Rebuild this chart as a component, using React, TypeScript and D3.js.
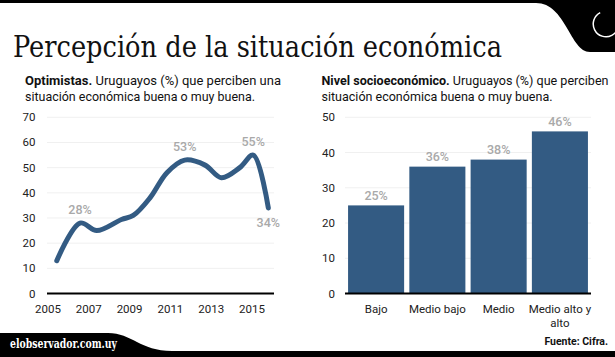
import React from "react";
import * as d3 from "d3";

const lineYears = [2005.43, 2006.57, 2007.39, 2008.6, 2009.18, 2010.0, 2010.83, 2011.7, 2012.7, 2013.5, 2014.4, 2015.06, 2015.8];
const lineValues = [13, 28, 25, 29.4, 31, 38, 48, 53, 51, 46, 50, 55, 34];
const lineLabels = [
  { i: 1, text: "28%", pos: "above" },
  { i: 7, text: "53%", pos: "above" },
  { i: 11, text: "55%", pos: "above" },
  { i: 12, text: "34%", pos: "below" },
];
const yearTicks = [2005, 2007, 2009, 2011, 2013, 2015];
const leftYTicks = [0, 10, 20, 30, 40, 50, 60, 70];

const categories = ["Bajo", "Medio bajo", "Medio", "Medio alto y alto"];
const catLines = [["Bajo"], ["Medio bajo"], ["Medio"], ["Medio alto y", "alto"]];
const barValues = [25, 36, 38, 46];
const rightYTicks = [0, 10, 20, 30, 40, 50];

const BLUE = "#335b83";
const GRAY = "#a9a9a9";
const FONT = "Roboto, 'Noto Sans', sans-serif";

export default function App() {
  const yTop = 117.3;
  const yBase = 293.5;
  const xL = d3.scaleLinear().domain([2005, 2015]).range([48, 252]);
  const yL = d3.scaleLinear().domain([0, 70]).range([yBase, yTop]);
  const line = d3
    .line<number>()
    .x((_, i) => xL(lineYears[i]))
    .y((d) => yL(d))
    .curve(d3.curveCatmullRom.alpha(0.5));

  const xR = d3.scaleBand<string>().domain(categories).range([345, 591]).paddingInner(0.085).paddingOuter(0.05);
  const yR = d3.scaleLinear().domain([0, 50]).range([yBase, yTop]);

  return (
    <svg
      width={615}
      height={357}
      style={{ position: "absolute", left: 0, top: 0, background: "#fff" }}
      fontFamily={FONT}
    >
      <rect width={615} height={357} fill="#fff" />
      {/* header band */}
      <path d="M0,0 H615 V52 H590 C570,52 566,3 536,3 H0 Z" fill="#000" />
      <path
        d={d3.arc()({ innerRadius: 12, outerRadius: 13.5, startAngle: 0.35 * Math.PI, endAngle: 1.85 * Math.PI }) || ""}
        transform="translate(606,24)"
        fill="#fff"
      />
      {/* footer band */}
      <path d="M0,333 H108 C132,333 140,351 172,351 H615 V357 H0 Z" fill="#000" />
      <text x={10} y={348} fill="#fff" fontFamily="'DejaVu Serif', serif" fontWeight="bold" fontSize={12} textLength={107} lengthAdjust="spacingAndGlyphs">
        elobservador.com.uy
      </text>
      <text x={608} y={345} textAnchor="end" fontSize={10.5} fontWeight="bold" fill="#111">
        Fuente: Cifra.
      </text>

      {/* title */}
      <text x={13} y={57} fontFamily="'DejaVu Serif', serif" fontSize={29} fill="#111" textLength={489} lengthAdjust="spacingAndGlyphs">
        Percepción de la situación económica
      </text>

      {/* subtitles */}
      <text x={25} y={85} fontSize={13} fill="#111" textLength={256} lengthAdjust="spacingAndGlyphs">
        <tspan fontWeight="bold">Optimistas.</tspan> Uruguayos (%) que perciben una
      </text>
      <text x={25} y={101} fontSize={13} fill="#111" textLength={230} lengthAdjust="spacingAndGlyphs">
        situación económica buena o muy buena.
      </text>
      <text x={321.5} y={85} fontSize={13} fill="#111" textLength={287} lengthAdjust="spacingAndGlyphs">
        <tspan fontWeight="bold">Nivel socioeconómico.</tspan> Uruguayos (%) que perciben
      </text>
      <text x={321.5} y={101} fontSize={13} fill="#111" textLength={231} lengthAdjust="spacingAndGlyphs">
        situación económica buena o muy buena.
      </text>

      {/* left chart */}
      {leftYTicks.map((t) => (
        <g key={"ly" + t}>
          {t > 0 && <line x1={47} x2={274} y1={yL(t)} y2={yL(t)} stroke="#f0f0f0" strokeWidth={1} />}
          <text x={35.5} y={yL(t) + 4} textAnchor="end" fontSize={11.5} fill="#222">
            {t}
          </text>
        </g>
      ))}
      {yearTicks.map((t) => (
        <text key={"lx" + t} x={xL(t)} y={313} textAnchor="middle" fontSize={11.5} fill="#222">
          {t}
        </text>
      ))}
      <line x1={47} x2={274} y1={yBase} y2={yBase} stroke="#000" strokeWidth={2} />
      <path d={line(lineValues) || ""} fill="none" stroke={BLUE} strokeWidth={5} strokeLinecap="round" strokeLinejoin="round" />
      {lineLabels.map((l) => (
        <text
          key={l.text}
          x={xL(lineYears[l.i])}
          y={l.pos === "above" ? yL(lineValues[l.i]) - 9.5 : yL(lineValues[l.i]) + 19}
          textAnchor="middle"
          fontSize={12.5}
          fontWeight={500}
          fill={GRAY}
        >
          {l.text}
        </text>
      ))}

      {/* right chart */}
      {rightYTicks.map((t) => (
        <g key={"ry" + t}>
          {t > 0 && <line x1={345} x2={591} y1={yR(t)} y2={yR(t)} stroke="#f0f0f0" strokeWidth={1} />}
          <text x={335} y={yR(t) + 4} textAnchor="end" fontSize={11.5} fill="#222">
            {t}
          </text>
        </g>
      ))}
      {categories.map((c, i) => (
        <g key={c}>
          <rect x={xR(c)} y={yR(barValues[i])} width={xR.bandwidth()} height={yBase - yR(barValues[i])} fill={BLUE} />
          <text x={(xR(c) || 0) + xR.bandwidth() / 2} y={yR(barValues[i]) - 5.5} textAnchor="middle" fontSize={12.5} fontWeight={500} fill={GRAY}>
            {barValues[i] + "%"}
          </text>
          {catLines[i].map((ln, j) => (
            <text key={ln} x={(xR(c) || 0) + xR.bandwidth() / 2} y={313 + j * 14} textAnchor="middle" fontSize={11.5} fill="#222">
              {ln}
            </text>
          ))}
        </g>
      ))}
      <line x1={345} x2={591} y1={yBase} y2={yBase} stroke="#000" strokeWidth={2} />
    </svg>
  );
}
